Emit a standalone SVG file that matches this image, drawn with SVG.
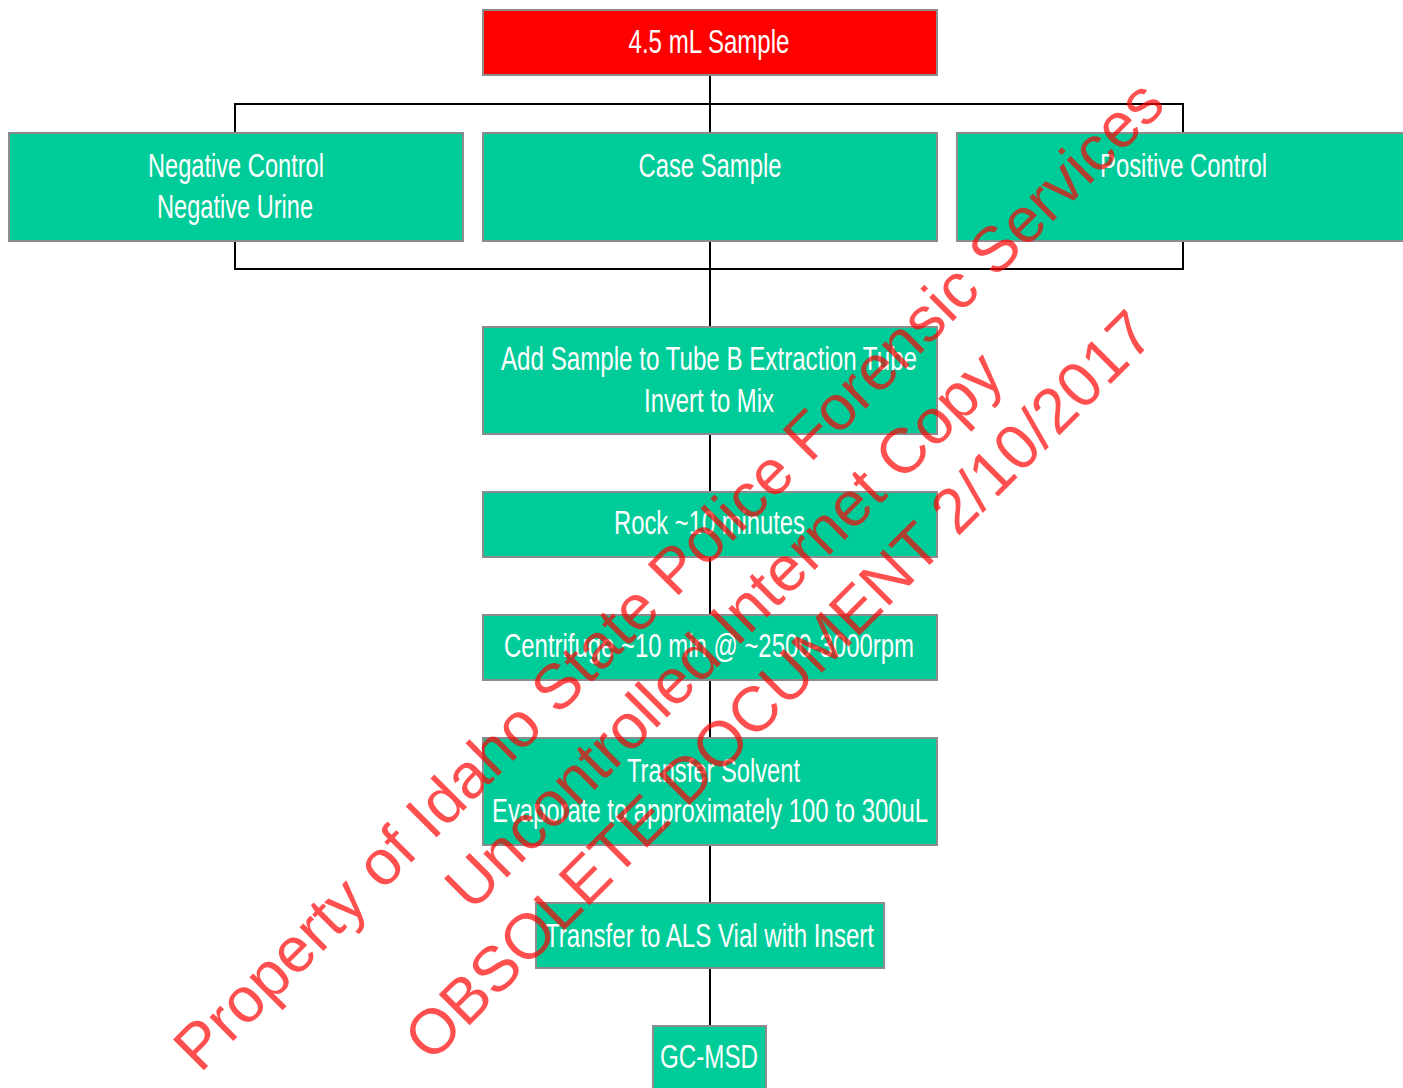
<svg xmlns="http://www.w3.org/2000/svg" width="1403" height="1088" viewBox="0 0 1403 1088">
  <style>
    .box { fill: #00CC99; stroke: #8C8C8C; stroke-width: 2; }
    .red { fill: #FF0000; stroke: #8C8C8C; stroke-width: 2; }
    .lbl { font-family: "Liberation Sans", Arial, sans-serif; font-size: 33px; fill: #FFFFFF; text-anchor: middle; }
    .conn { fill: none; stroke: #000000; stroke-width: 2; }
    .wm { font-family: "Liberation Sans", Arial, sans-serif; font-size: 63.6px; fill: #FF0000; fill-opacity: 0.69; text-anchor: middle; }
  </style>
  <rect width="1403" height="1088" fill="#FFFFFF"/>
  <g id="connectors">
    <path class="conn" d="M710,75 V133"/>
    <path class="conn" d="M235,133 V104 H1183 V133"/>
    <path class="conn" d="M235,241 V269 H1183 V241"/>
    <path class="conn" d="M710,241 V327"/>
    <path class="conn" d="M710,434 V492"/>
    <path class="conn" d="M710,557 V615"/>
    <path class="conn" d="M710,680 V738"/>
    <path class="conn" d="M710,845 V903"/>
    <path class="conn" d="M710,968 V1026"/>
  </g>
  <g id="sample">
    <rect class="red" x="483" y="10" width="454" height="65"/>
    <text class="lbl" x="709" y="53" textLength="161" lengthAdjust="spacingAndGlyphs">4.5 mL Sample</text>
  </g>
  <g id="negative">
    <rect class="box" x="9" y="133" width="454" height="108"/>
    <text class="lbl" x="236" y="177" textLength="176" lengthAdjust="spacingAndGlyphs">Negative Control</text>
    <text class="lbl" x="235" y="218" textLength="156" lengthAdjust="spacingAndGlyphs">Negative Urine</text>
  </g>
  <g id="case">
    <rect class="box" x="483" y="133" width="454" height="108"/>
    <text class="lbl" x="710" y="177" textLength="143" lengthAdjust="spacingAndGlyphs">Case Sample</text>
  </g>
  <g id="positive">
    <rect class="box" x="957" y="133" width="454" height="108"/>
    <text class="lbl" x="1183.5" y="177" textLength="167" lengthAdjust="spacingAndGlyphs">Positive Control</text>
  </g>
  <g id="add">
    <rect class="box" x="483" y="327" width="454" height="107"/>
    <text class="lbl" x="709" y="370" textLength="416" lengthAdjust="spacingAndGlyphs">Add Sample to Tube B Extraction Tube</text>
    <text class="lbl" x="709" y="412" textLength="130" lengthAdjust="spacingAndGlyphs">Invert to Mix</text>
  </g>
  <g id="rock">
    <rect class="box" x="483" y="492" width="454" height="65"/>
    <text class="lbl" x="709.5" y="534" textLength="191" lengthAdjust="spacingAndGlyphs">Rock ~10 minutes</text>
  </g>
  <g id="centrifuge">
    <rect class="box" x="483" y="615" width="454" height="65"/>
    <text class="lbl" x="709" y="657" textLength="410" lengthAdjust="spacingAndGlyphs">Centrifuge ~10 min @ ~2500-3000rpm</text>
  </g>
  <g id="transfer-solvent">
    <rect class="box" x="483" y="738" width="454" height="107"/>
    <text class="lbl" x="713.5" y="782" textLength="173" lengthAdjust="spacingAndGlyphs">Transfer Solvent</text>
    <text class="lbl" x="710" y="822" textLength="436" lengthAdjust="spacingAndGlyphs">Evaporate to approximately 100 to 300uL</text>
  </g>
  <g id="transfer-als">
    <rect class="box" x="536" y="903" width="348" height="65"/>
    <text class="lbl" x="709.5" y="947" textLength="329" lengthAdjust="spacingAndGlyphs">Transfer to ALS Vial with Insert</text>
  </g>
  <g id="gcmsd">
    <rect class="box" x="653" y="1026" width="113" height="70"/>
    <text class="lbl" x="709" y="1068" textLength="98" lengthAdjust="spacingAndGlyphs">GC-MSD</text>
  </g>
  <g id="watermark" transform="translate(683.8 590.4) rotate(-45)">
    <text class="wm" x="0" y="0">Property of Idaho State Police Forensic Services</text>
    <text class="wm" x="0" y="78">Uncontrolled Internet Copy</text>
    <text class="wm" x="0" y="156">OBSOLETE DOCUMENT 2/10/2017</text>
  </g>
</svg>
